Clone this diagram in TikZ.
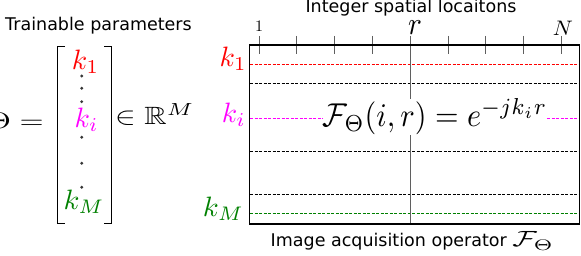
\documentclass[tikz,border=0pt]{standalone}
\usepackage{amsmath,amssymb}
\usepackage{fontspec}
\newfontfamily\labelfont{DejaVu Sans}
\usepackage{tikz}
\usetikzlibrary{positioning}
\definecolor{kred}{RGB}{255,0,0}
\definecolor{kpink}{RGB}{255,0,255}
\definecolor{kgreen}{RGB}{0,128,0}
\definecolor{tickgray}{RGB}{95,95,95}
\definecolor{dotgray}{RGB}{55,55,55}
\newcommand{\fsz}[1]{\fontsize{#1}{#1}\selectfont}
% math set at 10pt and blown up, #1 = x factor, #2 = y factor
\newcommand{\grownmath}[3]{\scalebox{#1}[#2]{\fsz{10}$#3$}}

\begin{document}
\begin{tikzpicture}[x=1pt,y=-1pt,
    lbl/.style={font=\labelfont\fsz{17.5},inner sep=0pt},
    mth/.style={inner sep=0pt},
    kdash/.style={dash pattern=on 3pt off 1.5pt,line width=0.9pt},
    tickmark/.style={tickgray,line width=0.8pt}]
  \useasboundingbox (0,0) rectangle (581,256);
  % the parameter vector
  \node[lbl,anchor=base] (params) at (98.5,31) {Trainable parameters};
  \node[mth,anchor=base east] (theta) at (44,128.3) {\grownmath{3.1}{2.25}{\Theta=}};
  \draw[line width=1pt] (65,46.7) -- (57.3,46.7) -- (57.3,224) -- (65,224);
  \draw[line width=1pt] (104,46.7) -- (111,46.7) -- (111,224) -- (104,224);
  \node[mth,anchor=base,text=kred] (v1) at (85.5,69.5) {\grownmath{2.8}{2.8}{k_1}};
  \node[mth,anchor=base,text=kpink] (vi) at (86.5,127.5) {\grownmath{2.8}{2.8}{k_i}};
  \node[mth,anchor=base,text=kgreen] (vM) at (84,209.5) {\grownmath{2.9}{2.8}{k_M}};
  \foreach \y in {76,88.3,101.7,137.3,163.3,187.3}
    \fill[dotgray] (81.7,\y) circle (1.6pt);
  \node[mth,anchor=base west] (inR) at (115,124.3) {\grownmath{3.1}{2.5}{\in\mathbb{R}^M}};
  % the operator
  \node[lbl,anchor=base] (locs) at (411,13) {Integer spatial locaitons};
  \draw[kdash,kred] (250,64) -- (579.5,64);
  \draw[kdash] (250,83) -- (579.5,83);
  \draw[kdash,kpink] (250,118) -- (579.5,118);
  \draw[kdash] (250,151.7) -- (579.5,151.7);
  \draw[kdash] (250,194.3) -- (579.5,194.3);
  \draw[kdash,kgreen] (250,213.3) -- (579.5,213.3);
  \foreach \n in {0,1,2,3,5,6,7,8}
    \draw[tickmark] (259+37.8*\n,36) -- ++(0,18);
  \draw[tickmark] (410.2,36) -- (410.2,224);
  \draw[line width=1.3pt] (249.5,45) rectangle (579.8,224);
  \node[mth,anchor=base] (first) at (259,32) {\grownmath{1.6}{1.6}{1}};
  \node[mth,anchor=base] (rpos) at (415,35) {\grownmath{2.9}{3.2}{r}};
  \node[mth,anchor=base] (last) at (563,36) {\grownmath{2.2}{2.1}{N}};
  \node[mth,anchor=base east,text=kred] (row1) at (247,66.7) {\grownmath{2.8}{2.8}{k_1}};
  \node[mth,anchor=base east,text=kpink] (rowi) at (246,122.7) {\grownmath{2.8}{2.8}{k_i}};
  \node[mth,anchor=base east,text=kgreen] (rowM) at (244,216.7) {\grownmath{2.9}{2.8}{k_M}};
  \node[mth,fill=white] (op) at (435,117)
    {\grownmath{3.03}{3.3}{\mathcal{F}_\Theta(i,r)=e^{-jk_ir}}};
  \node[lbl,anchor=base west] (oplbl) at (270.5,247)
    {Image acquisition operator \grownmath{3.0}{2.2}{\mathcal{F}_\Theta}};
\end{tikzpicture}
\end{document}
